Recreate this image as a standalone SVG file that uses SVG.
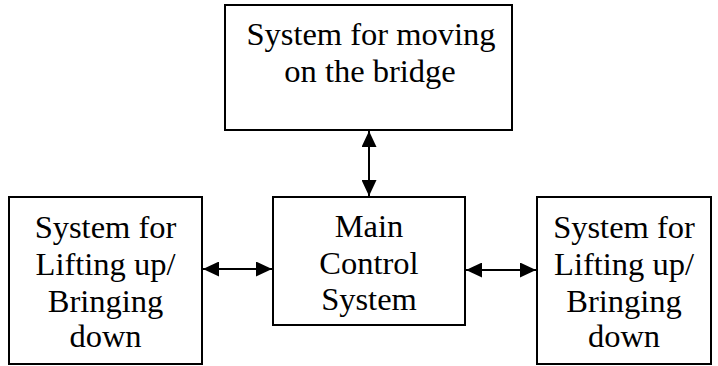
<svg xmlns="http://www.w3.org/2000/svg" width="718" height="366" viewBox="0 0 718 366">
<defs>
<style>
.box{fill:#fff;stroke:#000;stroke-width:2}
.t{font-family:"Liberation Serif","Times New Roman",serif;font-size:32.5px;fill:#000;text-anchor:middle}
.c{stroke:#000;stroke-width:2;fill:none}
</style>
<marker id="ah" viewBox="0 0 16 15" refX="16" refY="7.5" markerWidth="16" markerHeight="15" markerUnits="userSpaceOnUse" orient="auto-start-reverse">
<path d="M0,0 L16,7.5 L0,15 Z" fill="#000"/>
</marker>
</defs>
<rect width="718" height="366" fill="#fff"/>
<g id="connectors">
<line class="c" x1="369" y1="131" x2="369" y2="196" marker-start="url(#ah)" marker-end="url(#ah)"/>
<line class="c" x1="203" y1="269" x2="272" y2="269" marker-start="url(#ah)" marker-end="url(#ah)"/>
<line class="c" x1="466" y1="270" x2="536" y2="270" marker-start="url(#ah)" marker-end="url(#ah)"/>
</g>
<g id="top">
<rect class="box" x="225" y="5" width="287" height="125"/>
<text class="t" x="371" y="45">System for moving</text>
<text class="t" x="370" y="82">on the bridge</text>
</g>
<g id="main">
<rect class="box" x="273" y="197" width="192" height="128"/>
<text class="t" x="369" y="237">Main</text>
<text class="t" x="369" y="274">Control</text>
<text class="t" x="369" y="310">System</text>
</g>
<g id="left">
<rect class="box" x="9" y="197" width="193" height="167"/>
<text class="t" x="105.5" y="238">System for</text>
<text class="t" x="105.5" y="275">Lifting up/</text>
<text class="t" x="105.5" y="312">Bringing</text>
<text class="t" x="105.5" y="347">down</text>
</g>
<g id="right">
<rect class="box" x="537" y="197" width="174" height="167"/>
<text class="t" x="624" y="238">System for</text>
<text class="t" x="624" y="275">Lifting up/</text>
<text class="t" x="624" y="312">Bringing</text>
<text class="t" x="624" y="347">down</text>
</g>
</svg>
